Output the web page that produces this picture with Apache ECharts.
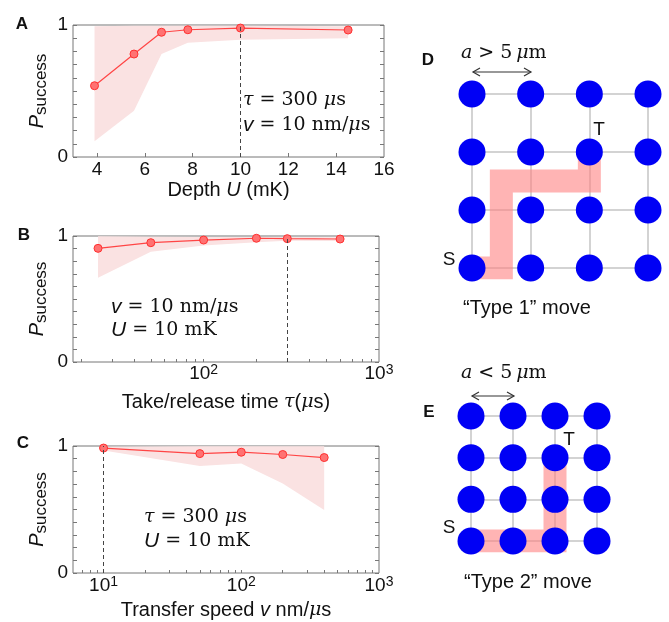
<!DOCTYPE html>
<html><head><meta charset="utf-8">
<script src="https://cdn.jsdelivr.net/npm/echarts@6/dist/echarts.min.js"></script>
<style>html,body{margin:0;padding:0;background:#fff}#c{width:669px;height:622px}</style>
</head><body><div id="c"></div><script>
// ---------- Panel A: depth ----------
const depthU    = [3.9, 5.55, 6.7, 7.8, 10, 14.5];
const depthP    = [0.54, 0.78, 0.945, 0.964, 0.977, 0.962];
const depthLow  = [0.12, 0.35, 0.78, 0.866, 0.889, 0.899];
const depthHigh = [0.99, 0.995, 0.995, 0.995, 0.995, 0.99];
const depthTickLabels = [4, 6, 8, 10, 12, 14, 16];
// ---------- Panel B: take/release time ----------
const tauT    = [25, 50, 100, 200, 300, 600];
const tauP    = [0.902, 0.947, 0.968, 0.982, 0.979, 0.976];
const tauLow  = [0.669, 0.875, 0.925, 0.95, 0.962, 0.96];
const tauHigh = [0.998, 0.995, 0.993, 0.993, 0.993, 0.99];
const tauTickLabels = [100, 1000];
const tauTicks = [20,30,40,50,60,70,80,90,100,200,300,400,500,600,700,800,900];
// ---------- Panel C: transfer speed ----------
const speedV    = [10, 50, 100, 200, 400];
const speedP    = [0.984, 0.94, 0.951, 0.933, 0.909];
const speedLow  = [0.965, 0.843, 0.862, 0.705, 0.496];
const speedHigh = [0.995, 0.998, 0.998, 0.998, 0.998];
const speedTickLabels = [10, 100, 1000];
const speedTicks = [7,8,9,10,20,30,40,50,60,70,80,90,100,200,300,400,500,600,700,800,900];
// ---------- Panels D / E: lattice ----------
const latticeCols = [0, 1, 2, 3];
const latticeRows = [0, 1, 2, 3];
const pathD = [[0,0],[0.5,0],[0.5,1.5],[2,1.5],[2,2]];
const pathE = [[0,0],[2,0],[2,2]];

const SANS = 'Liberation Sans';
const SERIF = 'DejaVu Serif';
const grids = [], xAxes = [], yAxes = [], series = [], graphics = [];

const axisFontRich = {
  t: {fontFamily: SANS, fontSize: 20, color: '#111', lineHeight: 22},
  i: {fontFamily: SANS, fontSize: 20, fontStyle: 'italic', color: '#111', lineHeight: 22},
  g: {fontFamily: SERIF, fontSize: 19, fontStyle: 'italic', color: '#111', lineHeight: 22}
};
const logRich = {
  b: {fontFamily: SANS, fontSize: 19, color: '#111', lineHeight: 20, verticalAlign: 'bottom'},
  sup: {fontFamily: SANS, fontSize: 14, color: '#111', lineHeight: 10, verticalAlign: 'top'}
};

function addPlot(rect, xCfg, xs, ys, lo, hi, markX) {
  const gi = grids.length;
  grids.push(Object.assign({show: true, borderColor: '#777', borderWidth: 1, backgroundColor: 'transparent'}, rect));
  const xi = xAxes.length;
  xAxes.push(Object.assign({
    gridIndex: gi, position: 'bottom',
    axisLine: {show: false}, splitLine: {show: false},
    nameLocation: 'middle'
  }, xCfg));
  const yi = yAxes.length;
  yAxes.push({
    gridIndex: gi, type: 'value', min: 0, max: 1, interval: 0.1, position: 'left',
    axisLine: {show: false}, splitLine: {show: false},
    axisTick: {show: true, inside: true, length: 4, lineStyle: {color: '#777'}},
    axisLabel: {customValues: [0, 1], fontFamily: SANS, fontSize: 19, color: '#111', margin: 5},
    name: '{p|P}{s|success}', nameLocation: 'middle', nameRotate: 90, nameGap: 16,
    nameTextStyle: {rich: {
      p: {fontFamily: SANS, fontSize: 20, fontStyle: 'italic', color: '#111', lineHeight: 22, padding: [0,0,6,0], verticalAlign: 'top'},
      s: {fontFamily: SANS, fontSize: 17, color: '#111', lineHeight: 18, verticalAlign: 'bottom'}
    }}
  });
  yAxes.push({
    gridIndex: gi, type: 'value', min: 0, max: 1, interval: 0.1, position: 'right',
    axisLine: {show: false}, splitLine: {show: false}, axisLabel: {show: false},
    axisTick: {show: true, inside: true, length: 4, lineStyle: {color: '#777'}}
  });
  series.push({
    type: 'custom', coordinateSystem: 'cartesian2d', xAxisIndex: xi, yAxisIndex: yi, silent: true, z: 1,
    data: xs.map((x, i) => [x, lo[i], hi[i]]), encode: {x: 0, y: [1, 2]},
    renderItem: (params, api) => {
      if (params.dataIndex !== 0) return null;
      const pts = [];
      for (let i = 0; i < xs.length; i++) pts.push(api.coord([xs[i], hi[i]]));
      for (let i = xs.length - 1; i >= 0; i--) pts.push(api.coord([xs[i], lo[i]]));
      return {type: 'polygon', shape: {points: pts}, style: {fill: '#fae2e2'}};
    }
  });
  series.push({
    type: 'line', xAxisIndex: xi, yAxisIndex: yi, z: 3,
    data: xs.map((x, i) => [x, ys[i]]),
    symbol: 'circle', symbolSize: 8,
    lineStyle: {color: '#ff4545', width: 1.2},
    itemStyle: {color: '#ff7272', borderColor: '#ff3030', borderWidth: 1},
    markLine: {silent: true, symbol: ['none', 'none'], label: {show: false}, animation: false,
      lineStyle: {color: '#444', type: [4, 3], width: 1}, data: [{xAxis: markX}]}
  });
}

// Panel A
addPlot({left: 73, top: 25, width: 311, height: 132}, {
  type: 'value', min: 3, max: 16,
  axisTick: {show: true, inside: true, length: 4, customValues: [4, 6, 8, 10, 12, 14], lineStyle: {color: '#777'}},
  axisLabel: {customValues: depthTickLabels, fontFamily: SANS, fontSize: 19, color: '#111', lineHeight: 20, margin: 3},
  name: '{t|Depth }{i|U}{t| (mK)}', nameGap: 21, nameTextStyle: {rich: axisFontRich}
}, depthU, depthP, depthLow, depthHigh, 10);

const logFmt = v => '{b|10}{sup|' + Math.round(Math.log10(v)) + '}';
// Panel B
addPlot({left: 73, top: 236, width: 306, height: 126}, {
  type: 'log', logBase: 10, min: 18, max: 1000,
  axisTick: {show: true, inside: true, length: 3, customValues: tauTicks, lineStyle: {color: '#777'}},
  axisLabel: {customValues: tauTickLabels, formatter: logFmt, rich: logRich, margin: 1},
  name: '{t|Take/release time }{g|τ}{t|(}{g|μ}{t|s)}', nameGap: 29, nameTextStyle: {rich: axisFontRich}
}, tauT, tauP, tauLow, tauHigh, 300);
// Panel C
addPlot({left: 73, top: 446, width: 306, height: 127}, {
  type: 'log', logBase: 10, min: 6, max: 1000,
  axisTick: {show: true, inside: true, length: 3, customValues: speedTicks, lineStyle: {color: '#777'}},
  axisLabel: {customValues: speedTickLabels, formatter: logFmt, rich: logRich, margin: 2},
  name: '{t|Transfer speed }{i|v}{t| nm/}{g|μ}{t|s}', nameGap: 26, nameTextStyle: {rich: axisFontRich}
}, speedV, speedP, speedLow, speedHigh, 10);

// Lattice panels
function addLattice(rect, path) {
  const gi = grids.length;
  grids.push(Object.assign({show: false}, rect));
  const base = {
    gridIndex: gi, type: 'value', min: 0, max: 3, interval: 1,
    axisLine: {show: false}, axisTick: {show: false}, axisLabel: {show: false},
    splitLine: {show: true, lineStyle: {color: '#c4c4c4', width: 1.5}}
  };
  const xi = xAxes.length; xAxes.push(Object.assign({position: 'bottom'}, base));
  const yi = yAxes.length; yAxes.push(Object.assign({position: 'left'}, base));
  series.push({
    type: 'line', xAxisIndex: xi, yAxisIndex: yi, data: path, symbol: 'none', z: 2, silent: true,
    lineStyle: {color: 'rgba(255,125,125,0.58)', width: 23, join: 'miter', cap: 'butt'}
  });
  const pts = [];
  latticeRows.forEach(r => latticeCols.forEach(c => pts.push([c, r])));
  series.push({
    type: 'scatter', xAxisIndex: xi, yAxisIndex: yi, data: pts, symbol: 'circle', symbolSize: 27, z: 4, silent: true,
    itemStyle: {color: '#0000f5', opacity: 1}
  });
}
addLattice({left: 472, top: 94, width: 176, height: 174}, pathD);
addLattice({left: 471, top: 416, width: 126, height: 125}, pathE);

// ---------- annotations ----------
const mathRich = {
  s: {fontFamily: SERIF, fontSize: 19, fill: '#111'},
  si: {fontFamily: SERIF, fontSize: 19, fontStyle: 'italic', fill: '#111'},
  ai: {fontFamily: SANS, fontSize: 21, fontStyle: 'italic', fill: '#111'}
};
function txt(x, y, text, opts) {
  graphics.push({type: 'text', x: x, y: y, z: 50, silent: true, style: Object.assign({
    text: text, rich: mathRich, fill: '#111',
    align: 'left', verticalAlign: 'middle', textAlign: 'left', textVerticalAlign: 'middle'
  }, opts || {})});
}
function label(x, y, text, font) {
  txt(x, y, text, {font: font, align: 'center', textAlign: 'center', rich: undefined});
}
// panel letters
label(22, 24, 'A', 'bold 17px "Liberation Sans"');
label(24, 235, 'B', 'bold 17px "Liberation Sans"');
label(23, 443, 'C', 'bold 17px "Liberation Sans"');
label(428, 60, 'D', 'bold 17px "Liberation Sans"');
label(429, 412, 'E', 'bold 17px "Liberation Sans"');
// parameter texts
txt(243, 100, '{si|τ}{s| = 300 }{si|μ}{s|s}');
txt(243, 125, '{ai|v}{s| = 10 nm/}{si|μ}{s|s}');
txt(111, 307, '{ai|v}{s| = 10 nm/}{si|μ}{s|s}');
txt(111, 330, '{ai|U}{s| = 10 mK}');
txt(144, 517, '{si|τ}{s| = 300 }{si|μ}{s|s}');
txt(144, 541, '{ai|U}{s| = 10 mK}');
// lattice texts
txt(461, 53, '{si|a}{s| > 5\u2009}{si|μ}{s|m}');
txt(461, 373, '{si|a}{s| < 5\u2009}{si|μ}{s|m}');
label(449, 260, 'S', '19px "Liberation Sans"');
label(599, 130, 'T', '19px "Liberation Sans"');
label(449, 528, 'S', '19px "Liberation Sans"');
label(569, 440, 'T', '19px "Liberation Sans"');
label(527, 308, '\u201CType 1\u201D move', '20px "Liberation Sans"');
label(528, 582, '\u201CType 2\u201D move', '20px "Liberation Sans"');
function arrow(x1, x2, y) {
  const st = {stroke: '#333', lineWidth: 1.2, fill: 'none'};
  graphics.push({type: 'polyline', silent: true, shape: {points: [[x1, y], [x2, y]]}, style: st});
  graphics.push({type: 'polyline', silent: true, shape: {points: [[x1 + 7, y - 4], [x1, y], [x1 + 7, y + 4]]}, style: st});
  graphics.push({type: 'polyline', silent: true, shape: {points: [[x2 - 7, y - 4], [x2, y], [x2 - 7, y + 4]]}, style: st});
}
arrow(473, 531, 72);
arrow(472, 514, 396);

const chart = echarts.init(document.getElementById('c'), null, {renderer: 'canvas'});
chart.setOption({
  animation: false,
  backgroundColor: '#fff',
  grid: grids, xAxis: xAxes, yAxis: yAxes, series: series,
  graphic: {elements: graphics}
});
</script></body></html>
